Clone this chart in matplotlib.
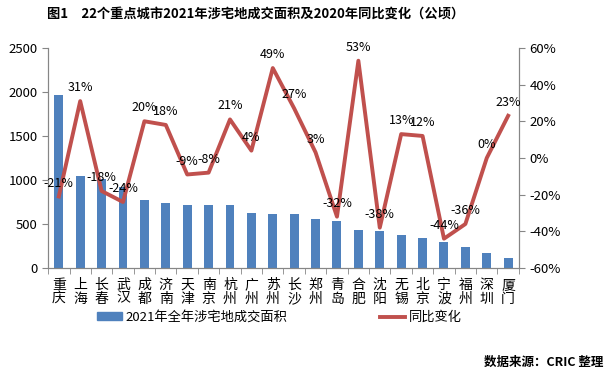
import numpy as np
import matplotlib.pyplot as plt
from matplotlib.patches import Patch
from matplotlib.lines import Line2D
from matplotlib.ticker import FuncFormatter

plt.rcParams['font.family'] = ['Noto Sans CJK SC', 'DejaVu Sans']

cities = ["重庆", "上海", "长春", "武汉", "成都", "济南", "天津", "南京", "杭州", "广州", "苏州",
          "长沙", "郑州", "青岛", "合肥", "沈阳", "无锡", "北京", "宁波", "福州", "深圳", "厦门"]
area_2021 = [1965, 1045, 1010, 925, 775, 742, 716, 716, 716, 625, 614,
             614, 557, 534, 432, 420, 375, 341, 295, 239, 170, 114]
yoy = [-21, 31, -18, -24, 20, 18, -9, -8, 21, 4, 49,
       27, 3, -32, 53, -38, 13, 12, -44, -36, 0, 23]

bar_color = "#4F81BD"
line_color = "#C0504D"
axis_color = "#868686"

fig = plt.figure(figsize=(6.09, 3.77), dpi=100)
ax = fig.add_axes([0.079, 0.289, 0.773, 0.584])
ax2 = ax.twinx()

x = np.arange(len(cities))
ax.bar(x, area_2021, width=0.42, color=bar_color, zorder=2)
ax.set_xlim(-0.5, len(cities) - 0.5)
ax.set_ylim(0, 2500)
ax.set_yticks(range(0, 2501, 500))
ax.set_xticks(x)
ax.set_xticklabels(["\n".join(c) for c in cities], fontsize=10, linespacing=1.0)
ax.set_xticks(np.arange(-0.5, len(cities), 1), minor=True)
ax.tick_params(axis='x', which='major', length=0, pad=7)
ax.tick_params(axis='x', which='minor', length=4, color=axis_color, direction='out')
ax.tick_params(axis='y', labelsize=9.5, length=4, color=axis_color, direction='out')

ax2.plot(x, yoy, color=line_color, linewidth=2.8, zorder=3)
ax2.set_ylim(-60, 60)
ax2.set_yticks(range(-60, 61, 20))
ax2.yaxis.set_major_formatter(FuncFormatter(lambda v, p: f"{int(v)}%"))
ax2.tick_params(axis='y', labelsize=9.5, length=4, color=axis_color, direction='out')
for xi, v in zip(x, yoy):
    ax2.annotate(f"{v}%", (xi, v), xytext=(0, 5), textcoords='offset points',
                 ha='center', va='bottom', fontsize=9)

for a in (ax, ax2):
    a.spines['top'].set_visible(False)
    for s in ('left', 'right', 'bottom'):
        a.spines[s].set_color(axis_color)

fig.text(0.419, 0.965, "图1　22个重点城市2021年涉宅地成交面积及2020年同比变化（公顷）",
         ha='center', va='center', fontsize=9.5, fontweight='bold')

handles = [Patch(color=bar_color), Line2D([0], [0], color=line_color, linewidth=2.8)]
fig.legend(handles, ["2021年全年涉宅地成交面积", "同比变化"], loc='center',
           bbox_to_anchor=(0.459, 0.158), ncol=2, frameon=False, fontsize=9.5,
           handlelength=1.9, handleheight=0.5, columnspacing=7.0, handletextpad=0.3)

fig.text(0.99, 0.04, "数据来源：CRIC 整理", ha='right', va='center',
         fontsize=9, fontweight='bold')

fig.savefig("out.png", dpi=100)
